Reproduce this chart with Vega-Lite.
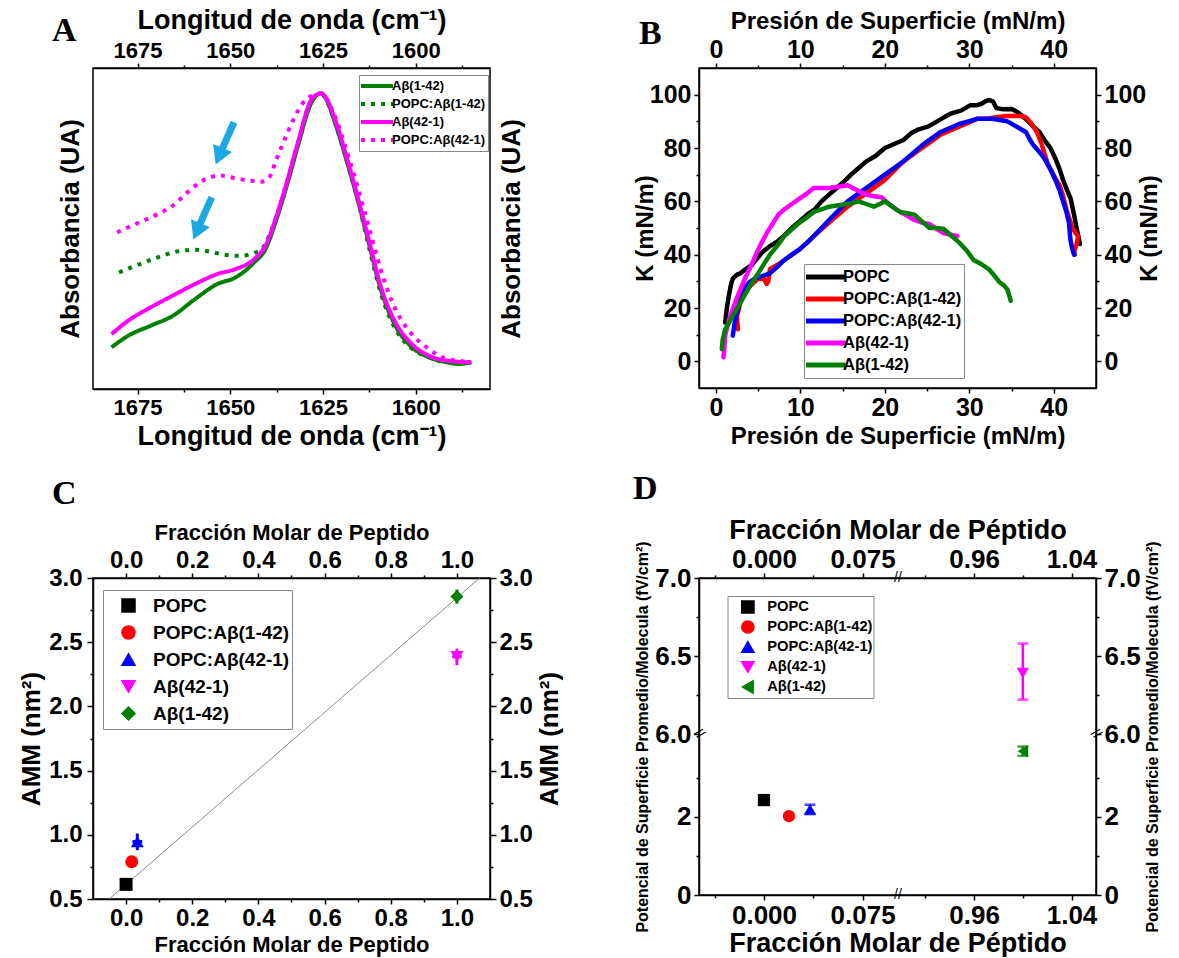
{
  "$schema": "https://vega.github.io/schema/vega-lite/v6.json",
  "background": "white",
  "padding": {"left": 17, "top": 5, "right": 0, "bottom": 0},
  "autosize": {"type": "pad"},
  "config": {
    "font": "Liberation Sans",
    "view": {"stroke": "black", "strokeWidth": 1.5},
    "axis": {"grid": false, "labelFont": "Liberation Sans", "labelFontWeight": "bold", "labelColor": "black", "titleFont": "Liberation Sans", "titleFontWeight": "bold", "titleColor": "black", "domainColor": "black", "domainWidth": 1.5, "tickColor": "black", "tickWidth": 1.5, "labelFlush": false, "labelOverlap": false, "labelBound": false},
    "legend": {"labelFont": "Liberation Sans", "labelFontWeight": "bold", "labelColor": "black", "strokeColor": "#888888", "fillColor": "white", "rowPadding": 0, "symbolOpacity": 1},
    "title": {"color": "black"}
  },
  "datasets": {
    "spectra": [
      {"series": "Aβ(1-42)", "wn": 1682, "abs": 0.130}, {"series": "Aβ(1-42)", "wn": 1677.5, "abs": 0.166}, {"series": "Aβ(1-42)", "wn": 1671.5, "abs": 0.197}, {"series": "Aβ(1-42)", "wn": 1665.5, "abs": 0.228}, {"series": "Aβ(1-42)", "wn": 1659.5, "abs": 0.280}, {"series": "Aβ(1-42)", "wn": 1653.5, "abs": 0.327}, {"series": "Aβ(1-42)", "wn": 1648.5, "abs": 0.348}, {"series": "Aβ(1-42)", "wn": 1643.5, "abs": 0.395}, {"series": "Aβ(1-42)", "wn": 1640.5, "abs": 0.436}, {"series": "Aβ(1-42)", "wn": 1637.5, "abs": 0.530}, {"series": "Aβ(1-42)", "wn": 1634.5, "abs": 0.644}, {"series": "Aβ(1-42)", "wn": 1631.5, "abs": 0.768}, {"series": "Aβ(1-42)", "wn": 1628.5, "abs": 0.883}, {"series": "Aβ(1-42)", "wn": 1626.5, "abs": 0.917}, {"series": "Aβ(1-42)", "wn": 1625.5, "abs": 0.921}, {"series": "Aβ(1-42)", "wn": 1624.5, "abs": 0.910}, {"series": "Aβ(1-42)", "wn": 1621.5, "abs": 0.820}, {"series": "Aβ(1-42)", "wn": 1618.5, "abs": 0.706}, {"series": "Aβ(1-42)", "wn": 1615.5, "abs": 0.582}, {"series": "Aβ(1-42)", "wn": 1612.5, "abs": 0.447}, {"series": "Aβ(1-42)", "wn": 1609.5, "abs": 0.312}, {"series": "Aβ(1-42)", "wn": 1605.5, "abs": 0.197}, {"series": "Aβ(1-42)", "wn": 1601.5, "abs": 0.135}, {"series": "Aβ(1-42)", "wn": 1596.5, "abs": 0.099}, {"series": "Aβ(1-42)", "wn": 1591.5, "abs": 0.083}, {"series": "Aβ(1-42)", "wn": 1588.5, "abs": 0.078}, {"series": "Aβ(1-42)", "wn": 1585, "abs": 0.083},
      {"series": "POPC:Aβ(1-42)", "wn": 1680, "abs": 0.363}, {"series": "POPC:Aβ(1-42)", "wn": 1675.5, "abs": 0.384}, {"series": "POPC:Aβ(1-42)", "wn": 1669.5, "abs": 0.410}, {"series": "POPC:Aβ(1-42)", "wn": 1664.5, "abs": 0.428}, {"series": "POPC:Aβ(1-42)", "wn": 1659.5, "abs": 0.434}, {"series": "POPC:Aβ(1-42)", "wn": 1655.5, "abs": 0.428}, {"series": "POPC:Aβ(1-42)", "wn": 1651.5, "abs": 0.418}, {"series": "POPC:Aβ(1-42)", "wn": 1647.5, "abs": 0.415}, {"series": "POPC:Aβ(1-42)", "wn": 1643.5, "abs": 0.424}, {"series": "POPC:Aβ(1-42)", "wn": 1641.5, "abs": 0.436}, {"series": "POPC:Aβ(1-42)", "wn": 1639.5, "abs": 0.478}, {"series": "POPC:Aβ(1-42)", "wn": 1637.5, "abs": 0.540}, {"series": "POPC:Aβ(1-42)", "wn": 1634.5, "abs": 0.654}, {"series": "POPC:Aβ(1-42)", "wn": 1631.5, "abs": 0.779}, {"series": "POPC:Aβ(1-42)", "wn": 1628.5, "abs": 0.893}, {"series": "POPC:Aβ(1-42)", "wn": 1626.5, "abs": 0.918}, {"series": "POPC:Aβ(1-42)", "wn": 1625.5, "abs": 0.921}, {"series": "POPC:Aβ(1-42)", "wn": 1624.5, "abs": 0.908}, {"series": "POPC:Aβ(1-42)", "wn": 1621.5, "abs": 0.820}, {"series": "POPC:Aβ(1-42)", "wn": 1618.5, "abs": 0.706}, {"series": "POPC:Aβ(1-42)", "wn": 1615.5, "abs": 0.582}, {"series": "POPC:Aβ(1-42)", "wn": 1612.5, "abs": 0.436}, {"series": "POPC:Aβ(1-42)", "wn": 1609.5, "abs": 0.301}, {"series": "POPC:Aβ(1-42)", "wn": 1605.5, "abs": 0.187}, {"series": "POPC:Aβ(1-42)", "wn": 1601.5, "abs": 0.130}, {"series": "POPC:Aβ(1-42)", "wn": 1596.5, "abs": 0.099}, {"series": "POPC:Aβ(1-42)", "wn": 1591.5, "abs": 0.083}, {"series": "POPC:Aβ(1-42)", "wn": 1585.5, "abs": 0.083},
      {"series": "Aβ(42-1)", "wn": 1682, "abs": 0.171}, {"series": "Aβ(42-1)", "wn": 1677.5, "abs": 0.213}, {"series": "Aβ(42-1)", "wn": 1671.5, "abs": 0.254}, {"series": "Aβ(42-1)", "wn": 1665.5, "abs": 0.291}, {"series": "Aβ(42-1)", "wn": 1659.5, "abs": 0.327}, {"series": "Aβ(42-1)", "wn": 1653.5, "abs": 0.358}, {"series": "Aβ(42-1)", "wn": 1648.5, "abs": 0.374}, {"series": "Aβ(42-1)", "wn": 1643.5, "abs": 0.405}, {"series": "Aβ(42-1)", "wn": 1640.5, "abs": 0.447}, {"series": "Aβ(42-1)", "wn": 1637.5, "abs": 0.540}, {"series": "Aβ(42-1)", "wn": 1634.5, "abs": 0.654}, {"series": "Aβ(42-1)", "wn": 1631.5, "abs": 0.779}, {"series": "Aβ(42-1)", "wn": 1628.5, "abs": 0.893}, {"series": "Aβ(42-1)", "wn": 1626.5, "abs": 0.918}, {"series": "Aβ(42-1)", "wn": 1625.5, "abs": 0.921}, {"series": "Aβ(42-1)", "wn": 1624.5, "abs": 0.912}, {"series": "Aβ(42-1)", "wn": 1621.5, "abs": 0.831}, {"series": "Aβ(42-1)", "wn": 1618.5, "abs": 0.717}, {"series": "Aβ(42-1)", "wn": 1615.5, "abs": 0.592}, {"series": "Aβ(42-1)", "wn": 1612.5, "abs": 0.457}, {"series": "Aβ(42-1)", "wn": 1609.5, "abs": 0.322}, {"series": "Aβ(42-1)", "wn": 1605.5, "abs": 0.208}, {"series": "Aβ(42-1)", "wn": 1601.5, "abs": 0.145}, {"series": "Aβ(42-1)", "wn": 1596.5, "abs": 0.104}, {"series": "Aβ(42-1)", "wn": 1591.5, "abs": 0.088}, {"series": "Aβ(42-1)", "wn": 1585, "abs": 0.083},
      {"series": "POPC:Aβ(42-1)", "wn": 1680.5, "abs": 0.488}, {"series": "POPC:Aβ(42-1)", "wn": 1675.5, "abs": 0.514}, {"series": "POPC:Aβ(42-1)", "wn": 1669.5, "abs": 0.545}, {"series": "POPC:Aβ(42-1)", "wn": 1665.5, "abs": 0.571}, {"series": "POPC:Aβ(42-1)", "wn": 1661.5, "abs": 0.613}, {"series": "POPC:Aβ(42-1)", "wn": 1657.5, "abs": 0.649}, {"series": "POPC:Aβ(42-1)", "wn": 1652.5, "abs": 0.665}, {"series": "POPC:Aβ(42-1)", "wn": 1648.5, "abs": 0.656}, {"series": "POPC:Aβ(42-1)", "wn": 1644.5, "abs": 0.649}, {"series": "POPC:Aβ(42-1)", "wn": 1641.5, "abs": 0.646}, {"series": "POPC:Aβ(42-1)", "wn": 1639.5, "abs": 0.659}, {"series": "POPC:Aβ(42-1)", "wn": 1637.5, "abs": 0.717}, {"series": "POPC:Aβ(42-1)", "wn": 1634.5, "abs": 0.800}, {"series": "POPC:Aβ(42-1)", "wn": 1631.5, "abs": 0.872}, {"series": "POPC:Aβ(42-1)", "wn": 1629.5, "abs": 0.903}, {"series": "POPC:Aβ(42-1)", "wn": 1626.5, "abs": 0.919}, {"series": "POPC:Aβ(42-1)", "wn": 1625.5, "abs": 0.921}, {"series": "POPC:Aβ(42-1)", "wn": 1624.5, "abs": 0.912}, {"series": "POPC:Aβ(42-1)", "wn": 1621.5, "abs": 0.841}, {"series": "POPC:Aβ(42-1)", "wn": 1618.5, "abs": 0.737}, {"series": "POPC:Aβ(42-1)", "wn": 1615.5, "abs": 0.623}, {"series": "POPC:Aβ(42-1)", "wn": 1612.5, "abs": 0.498}, {"series": "POPC:Aβ(42-1)", "wn": 1609.5, "abs": 0.374}, {"series": "POPC:Aβ(42-1)", "wn": 1605.5, "abs": 0.249}, {"series": "POPC:Aβ(42-1)", "wn": 1601.5, "abs": 0.177}, {"series": "POPC:Aβ(42-1)", "wn": 1596.5, "abs": 0.125}, {"series": "POPC:Aβ(42-1)", "wn": 1591.5, "abs": 0.093}, {"series": "POPC:Aβ(42-1)", "wn": 1585.5, "abs": 0.085}
    ],
    "arrows": [
      {"x1": 1649, "y1": 0.831, "x2": 1652.3, "y2": 0.745, "hx": 1653, "hy": 0.725},
      {"x1": 1655, "y1": 0.597, "x2": 1658.3, "y2": 0.511, "hx": 1659, "hy": 0.491}
    ],
    "kdata": [
      {"series": "POPC", "p": 1.1, "k": 14.6}, {"series": "POPC", "p": 1.3, "k": 20}, {"series": "POPC", "p": 1.5, "k": 24}, {"series": "POPC", "p": 1.8, "k": 29}, {"series": "POPC", "p": 2, "k": 31}, {"series": "POPC", "p": 2.5, "k": 32.5}, {"series": "POPC", "p": 2.9, "k": 33}, {"series": "POPC", "p": 3.5, "k": 34.5}, {"series": "POPC", "p": 4.2, "k": 36}, {"series": "POPC", "p": 5, "k": 39}, {"series": "POPC", "p": 5.5, "k": 41}, {"series": "POPC", "p": 6.3, "k": 43}, {"series": "POPC", "p": 7.3, "k": 45}, {"series": "POPC", "p": 8.2, "k": 47.5}, {"series": "POPC", "p": 9, "k": 50}, {"series": "POPC", "p": 9.9, "k": 52.5}, {"series": "POPC", "p": 10.8, "k": 55}, {"series": "POPC", "p": 11.7, "k": 57}, {"series": "POPC", "p": 12.5, "k": 60}, {"series": "POPC", "p": 13.4, "k": 62.5}, {"series": "POPC", "p": 14.3, "k": 65}, {"series": "POPC", "p": 15.2, "k": 67.5}, {"series": "POPC", "p": 16, "k": 70}, {"series": "POPC", "p": 16.9, "k": 72.5}, {"series": "POPC", "p": 17.8, "k": 75}, {"series": "POPC", "p": 18.9, "k": 77}, {"series": "POPC", "p": 20, "k": 80}, {"series": "POPC", "p": 21.1, "k": 81.5}, {"series": "POPC", "p": 22.2, "k": 83}, {"series": "POPC", "p": 23.1, "k": 85.5}, {"series": "POPC", "p": 24, "k": 87}, {"series": "POPC", "p": 25.1, "k": 88}, {"series": "POPC", "p": 26.2, "k": 90}, {"series": "POPC", "p": 27, "k": 91.5}, {"series": "POPC", "p": 27.9, "k": 93}, {"series": "POPC", "p": 29, "k": 94}, {"series": "POPC", "p": 30.1, "k": 96}, {"series": "POPC", "p": 30.8, "k": 96}, {"series": "POPC", "p": 31.4, "k": 96.5}, {"series": "POPC", "p": 31.9, "k": 97.5}, {"series": "POPC", "p": 32.3, "k": 98}, {"series": "POPC", "p": 32.8, "k": 97.5}, {"series": "POPC", "p": 33.2, "k": 95}, {"series": "POPC", "p": 34, "k": 94.5}, {"series": "POPC", "p": 35, "k": 94.6}, {"series": "POPC", "p": 35.7, "k": 93.5}, {"series": "POPC", "p": 36.3, "k": 92}, {"series": "POPC", "p": 37, "k": 90}, {"series": "POPC", "p": 37.6, "k": 88}, {"series": "POPC", "p": 38.3, "k": 86}, {"series": "POPC", "p": 38.9, "k": 83}, {"series": "POPC", "p": 39.6, "k": 80}, {"series": "POPC", "p": 40.2, "k": 76}, {"series": "POPC", "p": 40.7, "k": 72}, {"series": "POPC", "p": 41.1, "k": 68}, {"series": "POPC", "p": 41.6, "k": 64}, {"series": "POPC", "p": 42, "k": 61}, {"series": "POPC", "p": 42.4, "k": 55}, {"series": "POPC", "p": 42.7, "k": 50}, {"series": "POPC", "p": 42.9, "k": 47}, {"series": "POPC", "p": 43.1, "k": 44},
      {"series": "POPC:Aβ(1-42)", "p": 2.6, "k": 12}, {"series": "POPC:Aβ(1-42)", "p": 2.5, "k": 17}, {"series": "POPC:Aβ(1-42)", "p": 2.9, "k": 22}, {"series": "POPC:Aβ(1-42)", "p": 3.3, "k": 25}, {"series": "POPC:Aβ(1-42)", "p": 3.7, "k": 27}, {"series": "POPC:Aβ(1-42)", "p": 4.3, "k": 29}, {"series": "POPC:Aβ(1-42)", "p": 5, "k": 31}, {"series": "POPC:Aβ(1-42)", "p": 5.7, "k": 31}, {"series": "POPC:Aβ(1-42)", "p": 6, "k": 29}, {"series": "POPC:Aβ(1-42)", "p": 6.2, "k": 30}, {"series": "POPC:Aβ(1-42)", "p": 6.4, "k": 34.6}, {"series": "POPC:Aβ(1-42)", "p": 7.2, "k": 36}, {"series": "POPC:Aβ(1-42)", "p": 8.1, "k": 38}, {"series": "POPC:Aβ(1-42)", "p": 9, "k": 40}, {"series": "POPC:Aβ(1-42)", "p": 9.9, "k": 42}, {"series": "POPC:Aβ(1-42)", "p": 10.8, "k": 44.5}, {"series": "POPC:Aβ(1-42)", "p": 11.6, "k": 47}, {"series": "POPC:Aβ(1-42)", "p": 12.5, "k": 49.5}, {"series": "POPC:Aβ(1-42)", "p": 13.4, "k": 52}, {"series": "POPC:Aβ(1-42)", "p": 14.5, "k": 55}, {"series": "POPC:Aβ(1-42)", "p": 15.6, "k": 58}, {"series": "POPC:Aβ(1-42)", "p": 16.7, "k": 60.5}, {"series": "POPC:Aβ(1-42)", "p": 17.8, "k": 63}, {"series": "POPC:Aβ(1-42)", "p": 18.9, "k": 65.5}, {"series": "POPC:Aβ(1-42)", "p": 20, "k": 68}, {"series": "POPC:Aβ(1-42)", "p": 21.1, "k": 71.5}, {"series": "POPC:Aβ(1-42)", "p": 22.2, "k": 75}, {"series": "POPC:Aβ(1-42)", "p": 23.3, "k": 77.5}, {"series": "POPC:Aβ(1-42)", "p": 24.4, "k": 80}, {"series": "POPC:Aβ(1-42)", "p": 25.5, "k": 82.5}, {"series": "POPC:Aβ(1-42)", "p": 26.6, "k": 85}, {"series": "POPC:Aβ(1-42)", "p": 27.7, "k": 86.5}, {"series": "POPC:Aβ(1-42)", "p": 28.8, "k": 88}, {"series": "POPC:Aβ(1-42)", "p": 29.9, "k": 89.5}, {"series": "POPC:Aβ(1-42)", "p": 31, "k": 91}, {"series": "POPC:Aβ(1-42)", "p": 32.1, "k": 91}, {"series": "POPC:Aβ(1-42)", "p": 33.2, "k": 91.5}, {"series": "POPC:Aβ(1-42)", "p": 34.3, "k": 92}, {"series": "POPC:Aβ(1-42)", "p": 35.4, "k": 92}, {"series": "POPC:Aβ(1-42)", "p": 36.1, "k": 92}, {"series": "POPC:Aβ(1-42)", "p": 36.7, "k": 91.5}, {"series": "POPC:Aβ(1-42)", "p": 37.4, "k": 89}, {"series": "POPC:Aβ(1-42)", "p": 38, "k": 86}, {"series": "POPC:Aβ(1-42)", "p": 38.5, "k": 82}, {"series": "POPC:Aβ(1-42)", "p": 38.9, "k": 78}, {"series": "POPC:Aβ(1-42)", "p": 39.3, "k": 74}, {"series": "POPC:Aβ(1-42)", "p": 39.8, "k": 71}, {"series": "POPC:Aβ(1-42)", "p": 40.3, "k": 68}, {"series": "POPC:Aβ(1-42)", "p": 40.7, "k": 66}, {"series": "POPC:Aβ(1-42)", "p": 41.1, "k": 62}, {"series": "POPC:Aβ(1-42)", "p": 41.5, "k": 57}, {"series": "POPC:Aβ(1-42)", "p": 41.9, "k": 53}, {"series": "POPC:Aβ(1-42)", "p": 42.2, "k": 50}, {"series": "POPC:Aβ(1-42)", "p": 42.6, "k": 48}, {"series": "POPC:Aβ(1-42)", "p": 42.9, "k": 47}, {"series": "POPC:Aβ(1-42)", "p": 42.7, "k": 44}, {"series": "POPC:Aβ(1-42)", "p": 42.4, "k": 41}, {"series": "POPC:Aβ(1-42)", "p": 42.5, "k": 40},
      {"series": "POPC:Aβ(42-1)", "p": 2, "k": 9.6}, {"series": "POPC:Aβ(42-1)", "p": 2.2, "k": 14}, {"series": "POPC:Aβ(42-1)", "p": 2.4, "k": 17}, {"series": "POPC:Aβ(42-1)", "p": 2.8, "k": 22}, {"series": "POPC:Aβ(42-1)", "p": 3.3, "k": 27}, {"series": "POPC:Aβ(42-1)", "p": 3.9, "k": 29.5}, {"series": "POPC:Aβ(42-1)", "p": 4.6, "k": 31}, {"series": "POPC:Aβ(42-1)", "p": 5.5, "k": 32}, {"series": "POPC:Aβ(42-1)", "p": 6.4, "k": 33}, {"series": "POPC:Aβ(42-1)", "p": 7.3, "k": 35.5}, {"series": "POPC:Aβ(42-1)", "p": 8.1, "k": 38}, {"series": "POPC:Aβ(42-1)", "p": 9, "k": 40}, {"series": "POPC:Aβ(42-1)", "p": 9.9, "k": 42}, {"series": "POPC:Aβ(42-1)", "p": 10.8, "k": 44.5}, {"series": "POPC:Aβ(42-1)", "p": 11.6, "k": 47}, {"series": "POPC:Aβ(42-1)", "p": 12.5, "k": 50}, {"series": "POPC:Aβ(42-1)", "p": 13.4, "k": 53}, {"series": "POPC:Aβ(42-1)", "p": 14.5, "k": 56.5}, {"series": "POPC:Aβ(42-1)", "p": 15.6, "k": 60}, {"series": "POPC:Aβ(42-1)", "p": 16.7, "k": 62.5}, {"series": "POPC:Aβ(42-1)", "p": 17.8, "k": 65}, {"series": "POPC:Aβ(42-1)", "p": 18.9, "k": 67.5}, {"series": "POPC:Aβ(42-1)", "p": 20, "k": 70}, {"series": "POPC:Aβ(42-1)", "p": 21.1, "k": 72.5}, {"series": "POPC:Aβ(42-1)", "p": 22.2, "k": 75}, {"series": "POPC:Aβ(42-1)", "p": 23.3, "k": 78}, {"series": "POPC:Aβ(42-1)", "p": 24.4, "k": 81}, {"series": "POPC:Aβ(42-1)", "p": 25.5, "k": 83.5}, {"series": "POPC:Aβ(42-1)", "p": 26.6, "k": 86}, {"series": "POPC:Aβ(42-1)", "p": 27.7, "k": 87.5}, {"series": "POPC:Aβ(42-1)", "p": 28.8, "k": 89}, {"series": "POPC:Aβ(42-1)", "p": 29.9, "k": 90}, {"series": "POPC:Aβ(42-1)", "p": 31, "k": 91}, {"series": "POPC:Aβ(42-1)", "p": 31.9, "k": 91}, {"series": "POPC:Aβ(42-1)", "p": 32.7, "k": 91}, {"series": "POPC:Aβ(42-1)", "p": 33.6, "k": 90.5}, {"series": "POPC:Aβ(42-1)", "p": 34.5, "k": 90}, {"series": "POPC:Aβ(42-1)", "p": 35.6, "k": 88}, {"series": "POPC:Aβ(42-1)", "p": 36.7, "k": 86}, {"series": "POPC:Aβ(42-1)", "p": 37.2, "k": 83}, {"series": "POPC:Aβ(42-1)", "p": 37.6, "k": 81}, {"series": "POPC:Aβ(42-1)", "p": 38.3, "k": 78.5}, {"series": "POPC:Aβ(42-1)", "p": 38.9, "k": 76}, {"series": "POPC:Aβ(42-1)", "p": 39.6, "k": 72}, {"series": "POPC:Aβ(42-1)", "p": 40.2, "k": 68}, {"series": "POPC:Aβ(42-1)", "p": 40.7, "k": 64}, {"series": "POPC:Aβ(42-1)", "p": 41.1, "k": 60}, {"series": "POPC:Aβ(42-1)", "p": 41.5, "k": 56}, {"series": "POPC:Aβ(42-1)", "p": 41.8, "k": 52}, {"series": "POPC:Aβ(42-1)", "p": 41.9, "k": 48}, {"series": "POPC:Aβ(42-1)", "p": 42, "k": 45}, {"series": "POPC:Aβ(42-1)", "p": 42.2, "k": 42}, {"series": "POPC:Aβ(42-1)", "p": 42.4, "k": 40},
      {"series": "Aβ(42-1)", "p": 0.9, "k": 1.5}, {"series": "Aβ(42-1)", "p": 1, "k": 5}, {"series": "Aβ(42-1)", "p": 1.1, "k": 9.6}, {"series": "Aβ(42-1)", "p": 1.5, "k": 15}, {"series": "Aβ(42-1)", "p": 2, "k": 19.6}, {"series": "Aβ(42-1)", "p": 2.4, "k": 23}, {"series": "Aβ(42-1)", "p": 2.9, "k": 27}, {"series": "Aβ(42-1)", "p": 3.5, "k": 31.5}, {"series": "Aβ(42-1)", "p": 4.2, "k": 36}, {"series": "Aβ(42-1)", "p": 4.8, "k": 40.5}, {"series": "Aβ(42-1)", "p": 5.5, "k": 45}, {"series": "Aβ(42-1)", "p": 6.1, "k": 48.5}, {"series": "Aβ(42-1)", "p": 6.8, "k": 52}, {"series": "Aβ(42-1)", "p": 7.4, "k": 55}, {"series": "Aβ(42-1)", "p": 8.1, "k": 57}, {"series": "Aβ(42-1)", "p": 9, "k": 59}, {"series": "Aβ(42-1)", "p": 9.9, "k": 61}, {"series": "Aβ(42-1)", "p": 10.8, "k": 63}, {"series": "Aβ(42-1)", "p": 11.6, "k": 65}, {"series": "Aβ(42-1)", "p": 12.5, "k": 65}, {"series": "Aβ(42-1)", "p": 13.4, "k": 65}, {"series": "Aβ(42-1)", "p": 14.5, "k": 65.5}, {"series": "Aβ(42-1)", "p": 15.6, "k": 66}, {"series": "Aβ(42-1)", "p": 16.5, "k": 64.5}, {"series": "Aβ(42-1)", "p": 17.4, "k": 63}, {"series": "Aβ(42-1)", "p": 18.5, "k": 62}, {"series": "Aβ(42-1)", "p": 19.6, "k": 61.5}, {"series": "Aβ(42-1)", "p": 20.5, "k": 59}, {"series": "Aβ(42-1)", "p": 21.3, "k": 57}, {"series": "Aβ(42-1)", "p": 22.4, "k": 55}, {"series": "Aβ(42-1)", "p": 23.5, "k": 53}, {"series": "Aβ(42-1)", "p": 24.4, "k": 52}, {"series": "Aβ(42-1)", "p": 25.3, "k": 51.5}, {"series": "Aβ(42-1)", "p": 26.2, "k": 49.5}, {"series": "Aβ(42-1)", "p": 27, "k": 48}, {"series": "Aβ(42-1)", "p": 27.8, "k": 47.5}, {"series": "Aβ(42-1)", "p": 28.6, "k": 47},
      {"series": "Aβ(1-42)", "p": 0.7, "k": 4.6}, {"series": "Aβ(1-42)", "p": 0.8, "k": 8}, {"series": "Aβ(1-42)", "p": 1.1, "k": 12}, {"series": "Aβ(1-42)", "p": 2, "k": 17}, {"series": "Aβ(1-42)", "p": 2.9, "k": 22}, {"series": "Aβ(1-42)", "p": 3.7, "k": 26.5}, {"series": "Aβ(1-42)", "p": 4.6, "k": 31}, {"series": "Aβ(1-42)", "p": 5.5, "k": 35.5}, {"series": "Aβ(1-42)", "p": 6.4, "k": 40}, {"series": "Aβ(1-42)", "p": 7.3, "k": 43.5}, {"series": "Aβ(1-42)", "p": 8.1, "k": 47}, {"series": "Aβ(1-42)", "p": 9, "k": 49.5}, {"series": "Aβ(1-42)", "p": 9.9, "k": 52}, {"series": "Aβ(1-42)", "p": 10.8, "k": 54}, {"series": "Aβ(1-42)", "p": 11.6, "k": 56}, {"series": "Aβ(1-42)", "p": 12.5, "k": 57}, {"series": "Aβ(1-42)", "p": 13.4, "k": 58}, {"series": "Aβ(1-42)", "p": 14.5, "k": 58.5}, {"series": "Aβ(1-42)", "p": 15.6, "k": 59}, {"series": "Aβ(1-42)", "p": 16.3, "k": 59.5}, {"series": "Aβ(1-42)", "p": 16.9, "k": 60}, {"series": "Aβ(1-42)", "p": 17.8, "k": 59}, {"series": "Aβ(1-42)", "p": 18.7, "k": 58}, {"series": "Aβ(1-42)", "p": 19.4, "k": 59}, {"series": "Aβ(1-42)", "p": 20, "k": 60}, {"series": "Aβ(1-42)", "p": 20.9, "k": 58}, {"series": "Aβ(1-42)", "p": 21.8, "k": 56}, {"series": "Aβ(1-42)", "p": 22.7, "k": 55.5}, {"series": "Aβ(1-42)", "p": 23.5, "k": 55}, {"series": "Aβ(1-42)", "p": 24.4, "k": 52.5}, {"series": "Aβ(1-42)", "p": 25.3, "k": 50}, {"series": "Aβ(1-42)", "p": 26.2, "k": 50}, {"series": "Aβ(1-42)", "p": 27, "k": 49.6}, {"series": "Aβ(1-42)", "p": 27.9, "k": 47}, {"series": "Aβ(1-42)", "p": 28.8, "k": 44.6}, {"series": "Aβ(1-42)", "p": 29.7, "k": 41.5}, {"series": "Aβ(1-42)", "p": 30.5, "k": 38}, {"series": "Aβ(1-42)", "p": 31.4, "k": 36.5}, {"series": "Aβ(1-42)", "p": 32.3, "k": 34.6}, {"series": "Aβ(1-42)", "p": 33, "k": 32}, {"series": "Aβ(1-42)", "p": 33.6, "k": 29.6}, {"series": "Aβ(1-42)", "p": 34.1, "k": 28.5}, {"series": "Aβ(1-42)", "p": 34.5, "k": 27}, {"series": "Aβ(1-42)", "p": 34.7, "k": 25}, {"series": "Aβ(1-42)", "p": 34.9, "k": 22.7}
    ],
    "cline": [{"fx": -0.051, "amm": 0.5}, {"fx": 1.069, "amm": 3.0}],
    "cpts": [
      {"comp": "POPC", "fx": 0.0, "amm": 0.614, "xlo": -0.015, "xhi": 0.015, "ylo": 0.57, "yhi": 0.66},
      {"comp": "POPC:Aβ(1-42)", "fx": 0.017, "amm": 0.79, "xlo": 0.002, "xhi": 0.032, "ylo": 0.75, "yhi": 0.83},
      {"comp": "POPC:Aβ(42-1)", "fx": 0.034, "amm": 0.947, "xlo": 0.019, "xhi": 0.049, "ylo": 0.88, "yhi": 1.01},
      {"comp": "Aβ(42-1)", "fx": 1.0, "amm": 2.387, "xlo": 0.985, "xhi": 1.015, "ylo": 2.32, "yhi": 2.45},
      {"comp": "Aβ(1-42)", "fx": 1.0, "amm": 2.855, "xlo": 0.985, "xhi": 1.015, "ylo": 2.8, "yhi": 2.91}
    ],
    "dpts": [
      {"comp": "POPC", "fx": 0.0, "pot": 2.43, "lo": 2.33, "hi": 2.53},
      {"comp": "POPC:Aβ(1-42)", "fx": 0.019, "pot": 2.02, "lo": 1.96, "hi": 2.08},
      {"comp": "POPC:Aβ(42-1)", "fx": 0.035, "pot": 2.19, "lo": 2.07, "hi": 2.31},
      {"comp": "Aβ(42-1)", "fx": 1.0, "pot": 6.39, "lo": 6.22, "hi": 6.58},
      {"comp": "Aβ(1-42)", "fx": 1.0, "pot": 3.68, "lo": 3.56, "hi": 3.8}
    ],
    "dbreaks": [
      {"axis": "x", "bx": 0.5, "by": 7.0},
      {"axis": "x", "bx": 0.5, "by": 0.0},
      {"axis": "y", "bx": -0.0494, "by": 5.0},
      {"axis": "y", "bx": 1.0601, "by": 5.0}
    ]
  },
  "columns": 2,
  "spacing": {"row": 189, "column": 209},
  "bounds": "flush",
  "resolve": {
    "scale": {"x": "independent", "y": "independent", "color": "independent", "shape": "independent", "strokeDash": "independent"},
    "legend": {"color": "independent", "shape": "independent", "strokeDash": "independent"}
  },
  "concat": [
    {
      "width": 397, "height": 321,
      "title": {"text": "A", "anchor": "start", "frame": "group", "font": "Liberation Serif", "fontSize": 34, "fontWeight": "bold", "color": "black", "dx": -41, "dy": 42, "offset": 0},
      "layer": [
        {
          "data": {"name": "spectra"},
          "mark": {"type": "line", "strokeWidth": 4, "interpolate": "monotone"},
          "encoding": {
            "x": {"field": "wn", "type": "quantitative", "scale": {"domain": [1580, 1687], "reverse": true, "nice": false, "zero": false},
                  "axis": {"orient": "bottom", "values": [1675, 1650, 1625, 1600], "format": "d", "title": "Longitud de onda (cm⁻¹)", "labelFontSize": 22, "titleFontSize": 27, "tickSize": 5, "labelPadding": 3, "titlePadding": 5}},
            "y": {"field": "abs", "type": "quantitative", "scale": {"domain": [0, 1], "nice": false, "zero": false},
                  "axis": {"orient": "left", "title": "Absorbancia (UA)", "labels": false, "ticks": false, "domain": false, "titleFontSize": 26, "titlePadding": 10}},
            "color": {"field": "series", "type": "nominal",
                      "scale": {"domain": ["Aβ(1-42)", "POPC:Aβ(1-42)", "Aβ(42-1)", "POPC:Aβ(42-1)"], "range": ["#008000", "#008000", "#ff00ff", "#ff00ff"]},
                      "legend": {"orient": "none", "legendX": 266, "legendY": 7, "title": null, "symbolType": "stroke", "symbolSize": 1024, "symbolStrokeWidth": 4, "labelFontSize": 13, "clipHeight": 17.8, "padding": 2, "symbolOffset": -2, "labelOffset": -3}},
            "strokeDash": {"field": "series", "type": "nominal",
                      "scale": {"domain": ["Aβ(1-42)", "POPC:Aβ(1-42)", "Aβ(42-1)", "POPC:Aβ(42-1)"], "range": [[1, 0], [4, 6], [1, 0], [4, 6]]},
                      "legend": {"orient": "none", "legendX": 266, "legendY": 7, "title": null, "symbolType": "stroke", "symbolSize": 1024, "symbolStrokeWidth": 4, "labelFontSize": 13, "clipHeight": 17.8, "padding": 2, "symbolOffset": -2, "labelOffset": -3}}
          }
        },
        {
          "data": {"name": "arrows"},
          "mark": {"type": "rule", "strokeWidth": 7, "color": "#1CA8E3"},
          "encoding": {
            "x": {"field": "x1", "type": "quantitative", "axis": null},
            "y": {"field": "y1", "type": "quantitative", "axis": null},
            "x2": {"field": "x2"},
            "y2": {"field": "y2"}
          }
        },
        {
          "data": {"name": "arrows"},
          "mark": {"type": "point", "shape": "triangle-down", "filled": true, "color": "#1CA8E3", "opacity": 1, "size": 420, "angle": 23},
          "encoding": {
            "x": {"field": "hx", "type": "quantitative", "axis": null},
            "y": {"field": "hy", "type": "quantitative", "axis": null}
          }
        },
        {
          "data": {"name": "spectra"},
          "mark": {"type": "point", "opacity": 0},
          "encoding": {
            "x": {"field": "wn", "type": "quantitative", "axis": {"orient": "top", "values": [1675, 1650, 1625, 1600], "format": "d", "title": "Longitud de onda (cm⁻¹)", "labelFontSize": 22, "titleFontSize": 27, "tickSize": 5, "labelPadding": 1, "titlePadding": 5}},
            "y": {"field": "abs", "type": "quantitative", "axis": {"orient": "right", "title": "Absorbancia (UA)", "labels": false, "ticks": false, "domain": false, "titleFontSize": 26, "titlePadding": 8, "titleAngle": 270, "titleBaseline": "top"}}
          }
        },
        {
          "data": {"name": "spectra"},
          "mark": {"type": "point", "opacity": 0},
          "encoding": {
            "x": {"field": "wn", "type": "quantitative", "axis": {"orient": "bottom", "values": [1662.5, 1637.5, 1612.5, 1587.5], "labels": false, "domain": false, "tickSize": 3, "title": null}},
            "y": {"field": "abs", "type": "quantitative", "axis": null}
          }
        },
        {
          "data": {"name": "spectra"},
          "mark": {"type": "point", "opacity": 0},
          "encoding": {
            "x": {"field": "wn", "type": "quantitative", "axis": {"orient": "top", "values": [1662.5, 1637.5, 1612.5, 1587.5], "labels": false, "domain": false, "tickSize": 3, "title": null}},
            "y": {"field": "abs", "type": "quantitative", "axis": null}
          }
        }
      ],
      "resolve": {"axis": {"x": "independent", "y": "independent"}}
    },
    {
      "width": 397, "height": 320,
      "title": {"text": "B", "anchor": "start", "frame": "group", "font": "Liberation Serif", "fontSize": 34, "fontWeight": "bold", "color": "black", "dx": -60, "dy": 42, "offset": 0},
      "layer": [
        {
          "data": {"name": "kdata"},
          "mark": {"type": "line", "strokeWidth": 4.5, "strokeCap": "round", "strokeJoin": "round"},
          "encoding": {
            "x": {"field": "p", "type": "quantitative", "scale": {"domain": [-2, 45], "nice": false, "zero": false},
                  "axis": {"orient": "bottom", "values": [0, 10, 20, 30, 40], "format": "d", "title": "Presión de Superficie (mN/m)", "labelFontSize": 25, "titleFontSize": 24, "tickSize": 5, "labelPadding": 2, "titlePadding": 4}},
            "y": {"field": "k", "type": "quantitative", "scale": {"domain": [-10, 110], "nice": false, "zero": false},
                  "axis": {"orient": "left", "values": [0, 20, 40, 60, 80, 100], "format": "d", "title": "K (mN/m)", "labelFontSize": 25, "titleFontSize": 24, "tickSize": 5, "labelPadding": 3, "titlePadding": -8}},
            "color": {"field": "series", "type": "nominal",
                      "scale": {"domain": ["POPC", "POPC:Aβ(1-42)", "POPC:Aβ(42-1)", "Aβ(42-1)", "Aβ(1-42)"], "range": ["#000000", "#ff0000", "#0000ff", "#ff00ff", "#008000"]},
                      "legend": {"orient": "none", "legendX": 105, "legendY": 196, "title": null, "symbolType": "stroke", "symbolSize": 1681, "symbolStrokeWidth": 5, "labelFontSize": 16.5, "clipHeight": 21.9, "padding": 2, "symbolOffset": -4, "labelOffset": -5}},
            "order": {"value": null}
          }
        },
        {
          "data": {"name": "kdata"},
          "mark": {"type": "point", "opacity": 0},
          "encoding": {
            "x": {"field": "p", "type": "quantitative", "axis": {"orient": "top", "values": [0, 10, 20, 30, 40], "format": "d", "title": "Presión de Superficie (mN/m)", "labelFontSize": 25, "titleFontSize": 24, "tickSize": 5, "labelPadding": 1, "titlePadding": 4}},
            "y": {"field": "k", "type": "quantitative", "axis": {"orient": "right", "values": [0, 20, 40, 60, 80, 100], "format": "d", "title": "K (mN/m)", "labelFontSize": 25, "titleFontSize": 24, "tickSize": 5, "labelPadding": 3, "titlePadding": -8, "titleAngle": 270, "titleBaseline": "top"}}
          }
        },
        {
          "data": {"name": "kdata"},
          "mark": {"type": "point", "opacity": 0},
          "encoding": {
            "x": {"field": "p", "type": "quantitative", "axis": {"orient": "bottom", "values": [5, 15, 25, 35], "labels": false, "domain": false, "tickSize": 3, "title": null}},
            "y": {"field": "k", "type": "quantitative", "axis": {"orient": "left", "values": [10, 30, 50, 70, 90], "labels": false, "domain": false, "tickSize": 3, "title": null}}
          }
        },
        {
          "data": {"name": "kdata"},
          "mark": {"type": "point", "opacity": 0},
          "encoding": {
            "x": {"field": "p", "type": "quantitative", "axis": {"orient": "top", "values": [5, 15, 25, 35], "labels": false, "domain": false, "tickSize": 3, "title": null}},
            "y": {"field": "k", "type": "quantitative", "axis": {"orient": "right", "values": [10, 30, 50, 70, 90], "labels": false, "domain": false, "tickSize": 3, "title": null}}
          }
        }
      ],
      "resolve": {"axis": {"x": "independent", "y": "independent"}}
    },
    {
      "width": 397, "height": 321,
      "title": {"text": "C", "anchor": "start", "frame": "group", "font": "Liberation Serif", "fontSize": 34, "fontWeight": "bold", "color": "black", "dx": -41, "dy": -10, "offset": 0},
      "layer": [
        {
          "data": {"name": "cline"},
          "mark": {"type": "line", "color": "#8c8c8c", "strokeWidth": 1, "clip": true},
          "encoding": {
            "x": {"field": "fx", "type": "quantitative", "scale": {"domain": [-0.1, 1.1], "nice": false, "zero": false},
                  "axis": {"orient": "bottom", "values": [0, 0.2, 0.4, 0.6, 0.8, 1.0], "format": ".1f", "title": "Fracción Molar de Peptido", "labelFontSize": 24, "titleFontSize": 22, "tickSize": 5, "labelPadding": 2, "titlePadding": 4}},
            "y": {"field": "amm", "type": "quantitative", "scale": {"domain": [0.5, 3.0], "nice": false, "zero": false},
                  "axis": {"orient": "left", "values": [0.5, 1.0, 1.5, 2.0, 2.5, 3.0], "format": ".1f", "title": "AMM (nm²)", "labelFontSize": 24, "titleFontSize": 26, "tickSize": 6, "labelPadding": 5, "titlePadding": 4}}
          }
        },
        {
          "data": {"name": "cpts"},
          "mark": {"type": "rule", "strokeWidth": 3},
          "encoding": {
            "x": {"field": "fx", "type": "quantitative", "axis": null},
            "y": {"field": "ylo", "type": "quantitative", "axis": null},
            "y2": {"field": "yhi"},
            "color": {"field": "comp", "type": "nominal"}
          }
        },
        {
          "data": {"name": "cpts"},
          "mark": {"type": "rule", "strokeWidth": 3},
          "encoding": {
            "x": {"field": "xlo", "type": "quantitative", "axis": null},
            "x2": {"field": "xhi"},
            "y": {"field": "amm", "type": "quantitative", "axis": null},
            "color": {"field": "comp", "type": "nominal"}
          }
        },
        {
          "data": {"name": "cpts"},
          "mark": {"type": "point", "filled": true, "opacity": 1, "size": 169},
          "encoding": {
            "x": {"field": "fx", "type": "quantitative", "axis": null},
            "y": {"field": "amm", "type": "quantitative", "axis": null},
            "color": {"field": "comp", "type": "nominal",
                      "scale": {"domain": ["POPC", "POPC:Aβ(1-42)", "POPC:Aβ(42-1)", "Aβ(42-1)", "Aβ(1-42)"], "range": ["#000000", "#ff0000", "#0000ff", "#ff00ff", "#008000"]},
                      "legend": {"orient": "none", "legendX": 10, "legendY": 12, "title": null, "symbolType": "circle", "symbolSize": 169, "labelFontSize": 19, "clipHeight": 27, "padding": 2, "symbolOffset": 14, "labelOffset": 15}},
            "shape": {"field": "comp", "type": "nominal",
                      "scale": {"domain": ["POPC", "POPC:Aβ(1-42)", "POPC:Aβ(42-1)", "Aβ(42-1)", "Aβ(1-42)"], "range": ["square", "circle", "triangle-up", "triangle-down", "diamond"]},
                      "legend": {"orient": "none", "legendX": 10, "legendY": 12, "title": null, "symbolType": "circle", "symbolSize": 169, "labelFontSize": 19, "clipHeight": 27, "padding": 2, "symbolOffset": 14, "labelOffset": 15}}
          }
        },
        {
          "data": {"name": "cpts"},
          "mark": {"type": "point", "opacity": 0},
          "encoding": {
            "x": {"field": "fx", "type": "quantitative", "axis": {"orient": "top", "values": [0, 0.2, 0.4, 0.6, 0.8, 1.0], "format": ".1f", "title": "Fracción Molar de Peptido", "labelFontSize": 24, "titleFontSize": 22, "tickSize": 5, "labelPadding": 1, "titlePadding": 4}},
            "y": {"field": "amm", "type": "quantitative", "axis": {"orient": "right", "values": [0.5, 1.0, 1.5, 2.0, 2.5, 3.0], "format": ".1f", "title": "AMM (nm²)", "labelFontSize": 24, "titleFontSize": 26, "tickSize": 6, "labelPadding": 3, "titlePadding": 4, "titleAngle": 270, "titleBaseline": "top"}}
          }
        },
        {
          "data": {"name": "cpts"},
          "mark": {"type": "point", "opacity": 0},
          "encoding": {
            "x": {"field": "fx", "type": "quantitative", "axis": {"orient": "bottom", "values": [0.1, 0.3, 0.5, 0.7, 0.9], "labels": false, "domain": false, "tickSize": 3, "title": null}},
            "y": {"field": "amm", "type": "quantitative", "axis": {"orient": "left", "values": [0.75, 1.25, 1.75, 2.25, 2.75], "labels": false, "domain": false, "tickSize": 3, "title": null}}
          }
        },
        {
          "data": {"name": "cpts"},
          "mark": {"type": "point", "opacity": 0},
          "encoding": {
            "x": {"field": "fx", "type": "quantitative", "axis": {"orient": "top", "values": [0.1, 0.3, 0.5, 0.7, 0.9], "labels": false, "domain": false, "tickSize": 3, "title": null}},
            "y": {"field": "amm", "type": "quantitative", "axis": {"orient": "right", "values": [0.75, 1.25, 1.75, 2.25, 2.75], "labels": false, "domain": false, "tickSize": 3, "title": null}}
          }
        }
      ],
      "resolve": {"axis": {"x": "independent", "y": "independent"}}
    },
    {
      "width": 397, "height": 317,
      "title": {"text": "D", "anchor": "start", "frame": "group", "font": "Liberation Serif", "fontSize": 34, "fontWeight": "bold", "color": "black", "dx": -66, "dy": -10, "offset": 0},
      "layer": [
        {
          "data": {"name": "dpts"},
          "mark": {"type": "rule", "strokeWidth": 2.5},
          "encoding": {
            "x": {"field": "fx", "type": "quantitative", "scale": {"domain": [-0.0494, 0.1019, 0.8975, 1.0601], "range": [0, 199, 199, 397], "nice": false, "zero": false},
                  "axis": {"orient": "bottom", "values": [0, 0.075, 0.96, 1.04], "labelExpr": "datum.value < 0.5 ? format(datum.value, '.3f') : format(datum.value, '.2f')", "title": "Fracción Molar de Péptido", "labelFontSize": 26, "titleFontSize": 27, "tickSize": 5, "labelPadding": 2, "titlePadding": 2}},
            "y": {"field": "lo", "type": "quantitative", "scale": {"domain": [0, 4.12, 6, 7], "range": [317, 156, 156, 0], "nice": false, "zero": false},
                  "axis": {"orient": "left", "values": [0, 2, 6, 6.5, 7], "labelExpr": "datum.value < 5 ? format(datum.value, 'd') : format(datum.value, '.1f')", "title": "Potencial de Superficie Promedio/Molecula (fV/cm²)", "labelFontSize": 26, "titleFontSize": 16, "tickSize": 5, "labelPadding": 3, "titlePadding": 4}},
            "y2": {"field": "hi"},
            "color": {"field": "comp", "type": "nominal"}
          }
        },
        {
          "data": {"name": "dpts"},
          "mark": {"type": "tick", "orient": "horizontal", "thickness": 2.5, "size": 11},
          "encoding": {
            "x": {"field": "fx", "type": "quantitative", "axis": null},
            "y": {"field": "lo", "type": "quantitative", "axis": null},
            "color": {"field": "comp", "type": "nominal"}
          }
        },
        {
          "data": {"name": "dpts"},
          "mark": {"type": "tick", "orient": "horizontal", "thickness": 2.5, "size": 11},
          "encoding": {
            "x": {"field": "fx", "type": "quantitative", "axis": null},
            "y": {"field": "hi", "type": "quantitative", "axis": null},
            "color": {"field": "comp", "type": "nominal"}
          }
        },
        {
          "data": {"name": "dpts"},
          "mark": {"type": "point", "filled": true, "opacity": 1, "size": 150},
          "encoding": {
            "x": {"field": "fx", "type": "quantitative", "axis": null},
            "y": {"field": "pot", "type": "quantitative", "axis": null},
            "color": {"field": "comp", "type": "nominal",
                      "scale": {"domain": ["POPC", "POPC:Aβ(1-42)", "POPC:Aβ(42-1)", "Aβ(42-1)", "Aβ(1-42)"], "range": ["#000000", "#ff0000", "#0000ff", "#ff00ff", "#008000"]},
                      "legend": {"orient": "none", "legendX": 28.5, "legendY": 18, "title": null, "symbolType": "circle", "symbolSize": 150, "labelFontSize": 14.7, "clipHeight": 20, "padding": 1, "symbolOffset": 12, "labelOffset": 12}},
            "shape": {"field": "comp", "type": "nominal",
                      "scale": {"domain": ["POPC", "POPC:Aβ(1-42)", "POPC:Aβ(42-1)", "Aβ(42-1)", "Aβ(1-42)"], "range": ["square", "circle", "triangle-up", "triangle-down", "triangle-left"]},
                      "legend": {"orient": "none", "legendX": 28.5, "legendY": 18, "title": null, "symbolType": "circle", "symbolSize": 150, "labelFontSize": 14.7, "clipHeight": 20, "padding": 1, "symbolOffset": 12, "labelOffset": 12}}
          }
        },
        {
          "data": {"name": "dbreaks"},
          "transform": [{"filter": "datum.axis == 'x'"}],
          "mark": {"type": "text", "text": "//", "fontSize": 14, "align": "center", "baseline": "middle", "color": "black"},
          "encoding": {
            "x": {"field": "bx", "type": "quantitative", "axis": null},
            "y": {"field": "by", "type": "quantitative", "axis": null}
          }
        },
        {
          "data": {"name": "dbreaks"},
          "transform": [{"filter": "datum.axis == 'y'"}],
          "mark": {"type": "text", "text": "//", "fontSize": 14, "align": "center", "baseline": "middle", "angle": 45, "color": "black"},
          "encoding": {
            "x": {"field": "bx", "type": "quantitative", "axis": null},
            "y": {"field": "by", "type": "quantitative", "axis": null}
          }
        },
        {
          "data": {"name": "dpts"},
          "mark": {"type": "point", "opacity": 0},
          "encoding": {
            "x": {"field": "fx", "type": "quantitative", "axis": {"orient": "top", "values": [0, 0.075, 0.96, 1.04], "labelExpr": "datum.value < 0.5 ? format(datum.value, '.3f') : format(datum.value, '.2f')", "title": "Fracción Molar de Péptido", "labelFontSize": 26, "titleFontSize": 27, "tickSize": 5, "labelPadding": 1, "titlePadding": 2}},
            "y": {"field": "pot", "type": "quantitative", "axis": {"orient": "right", "values": [0, 2, 6, 6.5, 7], "labelExpr": "datum.value < 5 ? format(datum.value, 'd') : format(datum.value, '.1f')", "title": "Potencial de Superficie Promedio/Molecula (fV/cm²)", "labelFontSize": 26, "titleFontSize": 16, "tickSize": 5, "labelPadding": 3, "titlePadding": 4, "titleAngle": 270, "titleBaseline": "top"}}
          }
        },
        {
          "data": {"name": "dpts"},
          "mark": {"type": "point", "opacity": 0},
          "encoding": {
            "x": {"field": "fx", "type": "quantitative", "axis": {"orient": "bottom", "values": [-0.0375, 0.0375, 0.92, 1.0], "labels": false, "domain": false, "tickSize": 3, "title": null}},
            "y": {"field": "pot", "type": "quantitative", "axis": {"orient": "left", "values": [1, 3, 6.25, 6.75], "labels": false, "domain": false, "tickSize": 3, "title": null}}
          }
        },
        {
          "data": {"name": "dpts"},
          "mark": {"type": "point", "opacity": 0},
          "encoding": {
            "x": {"field": "fx", "type": "quantitative", "axis": {"orient": "top", "values": [-0.0375, 0.0375, 0.92, 1.0], "labels": false, "domain": false, "tickSize": 3, "title": null}},
            "y": {"field": "pot", "type": "quantitative", "axis": {"orient": "right", "values": [1, 3, 6.25, 6.75], "labels": false, "domain": false, "tickSize": 3, "title": null}}
          }
        }
      ],
      "resolve": {"axis": {"x": "independent", "y": "independent"}}
    }
  ]
}
